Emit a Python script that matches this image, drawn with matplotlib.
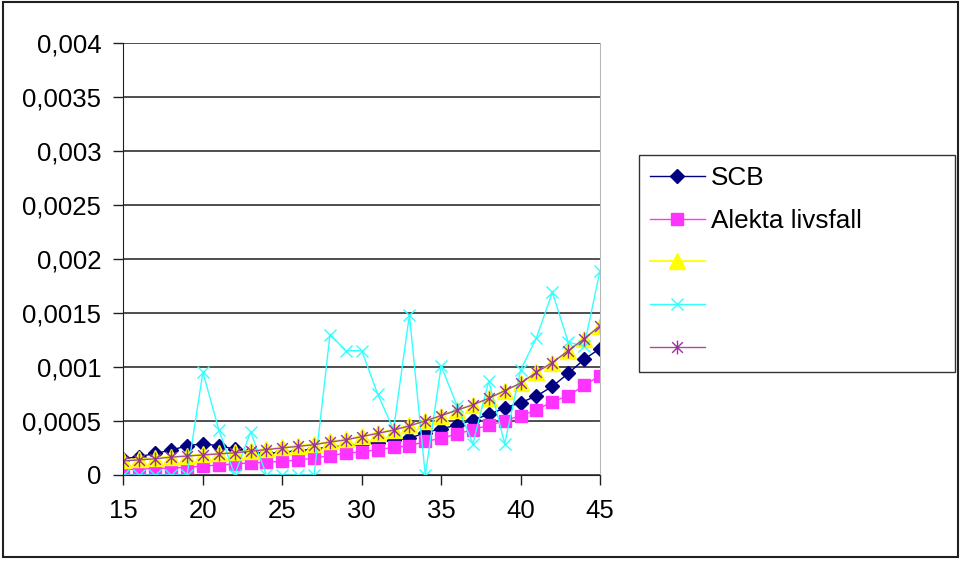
import matplotlib
matplotlib.use("Agg")
import matplotlib.pyplot as plt
from matplotlib.path import Path
from matplotlib.patches import Rectangle

ages = list(range(15, 46))

scb = [0.00015, 0.00017, 0.00020, 0.00023, 0.00027, 0.00029, 0.00027, 0.00024,
       0.00021, 0.00020, 0.00021, 0.000225, 0.00024, 0.00026, 0.00027, 0.00029,
       0.00030, 0.00032, 0.00034, 0.00039, 0.00043, 0.00046, 0.00051, 0.00056,
       0.00062, 0.00067, 0.00073, 0.00082, 0.00094, 0.00107, 0.00117]
alekta = [0.00005, 0.000055, 0.00006, 0.000065, 0.00007, 0.000085, 0.00009, 0.000105,
          0.00011, 0.00012, 0.000125, 0.00014, 0.000155, 0.00018, 0.0002, 0.000215,
          0.000234, 0.000256, 0.00027, 0.00031, 0.00034, 0.00038, 0.00042, 0.00046,
          0.0005, 0.00055, 0.0006, 0.00068, 0.00073, 0.00083, 0.00092]
serie3 = [0.00014, 0.00015, 0.00016, 0.00017, 0.00018, 0.00019, 0.0002, 0.00021,
          0.000225, 0.00024, 0.000255, 0.00027, 0.000285, 0.00031, 0.00033, 0.00036,
          0.00039, 0.00042, 0.00046, 0.0005, 0.00055, 0.0006, 0.00065, 0.00071,
          0.00078, 0.00085, 0.00095, 0.00104, 0.00115, 0.00126, 0.00138]
serie4 = [0.0, 0.0, 0.0, 0.0, 0.0, 0.00095, 0.00042, 0.0,
          0.0004, 0.0, 0.0, 0.0, 0.0, 0.0013, 0.00115, 0.00115,
          0.00075, 0.00042, 0.00148, 0.0, 0.00101, 0.00064, 0.00029, 0.00087,
          0.00029, 0.00097, 0.00127, 0.00169, 0.00123, 0.00119, 0.00189]
serie5 = [0.00013, 0.00014, 0.00015, 0.000165, 0.000175, 0.000185, 0.000195, 0.000205,
          0.00022, 0.000235, 0.00025, 0.000265, 0.00028, 0.000305, 0.000325, 0.000355,
          0.000385, 0.000415, 0.000455, 0.0005, 0.00055, 0.0006, 0.00065, 0.00071,
          0.00078, 0.00085, 0.00095, 0.00104, 0.00115, 0.00126, 0.00138]

labels = ["SCB", "Alekta livsfall", "", "", ""]
xticks = [15, 20, 25, 30, 35, 40, 45]
yticks = [0, 0.0005, 0.001, 0.0015, 0.002, 0.0025, 0.003, 0.0035, 0.004]
ytick_labels = ["0", "0,0005", "0,001", "0,0015", "0,002", "0,0025", "0,003", "0,0035", "0,004"]

plt.rcParams['font.family'] = ['Liberation Sans', 'DejaVu Sans']

W, H = 962, 563
fig = plt.figure(figsize=(W / 100, H / 100), dpi=100)
ax = fig.add_axes([123.5 / W, 1 - 475 / H, (600 - 123.5) / W, (475 - 42.7) / H])

# excel style asterisk: x with vertical bar
star = Path([(-1, -1), (1, 1), (-1, 1), (1, -1), (0, -1.3), (0, 1.3)],
            [Path.MOVETO, Path.LINETO, Path.MOVETO, Path.LINETO, Path.MOVETO, Path.LINETO])

h1, = ax.plot(ages, scb, color='#000080', lw=1, marker='D', ms=7, mec='#000080', mfc='#000080')
h2, = ax.plot(ages, alekta, color='#FF33FF', lw=1, marker='s', ms=9, mec='#FF33FF', mfc='#FF33FF')
h3, = ax.plot(ages, serie3, color='#FFFF00', lw=1.3, marker='^', ms=11, mec='#FFFF00', mfc='#FFFF00')
h4, = ax.plot(ages, serie4, color='#33FFFF', lw=1, marker='x', ms=9, mew=1, mec='#33FFFF')
h5, = ax.plot(ages, serie5, color='#A050A0', lw=1, marker=star, ms=10, mew=1, mec='#993399', mfc='none')

ax.set_xlim(15, 45)
ax.set_ylim(0, 0.004)
ax.set_xticks(xticks)
ax.set_xticklabels([str(t) for t in xticks])
ax.set_yticks(yticks)
ax.set_yticklabels(ytick_labels)
ax.tick_params(axis='both', labelsize=18.5, direction='out', length=7, width=1, color='#202020')
ax.tick_params(axis='x', pad=10)
ax.tick_params(axis='y', pad=9)
ax.yaxis.grid(True, color='#303030', lw=1.2)
ax.set_axisbelow(True)
ax.spines['top'].set_visible(False)
ax.spines['right'].set_color('#B8B8B8')
ax.spines['left'].set_color('#202020')
ax.spines['bottom'].set_color('#202020')

leg = fig.legend([h1, h2, h3, h4, h5], labels, loc='upper left',
                 bbox_to_anchor=(639 / W, 1 - 155 / H, (955 - 639) / W, 0), mode='expand',
                 fontsize=18.8, frameon=True, fancybox=False, borderpad=0.42, labelspacing=0.72,
                 handlelength=2.1, handletextpad=0.25, borderaxespad=0)
leg.get_frame().set_edgecolor('black')
leg.get_frame().set_linewidth(1)

fig.patches.append(Rectangle((3 / W, 1 - 557 / H), (958 - 3) / W, (557 - 2) / H,
                             transform=fig.transFigure, fill=False, edgecolor='#202020', lw=1.5))

fig.savefig("out.png", dpi=100)
